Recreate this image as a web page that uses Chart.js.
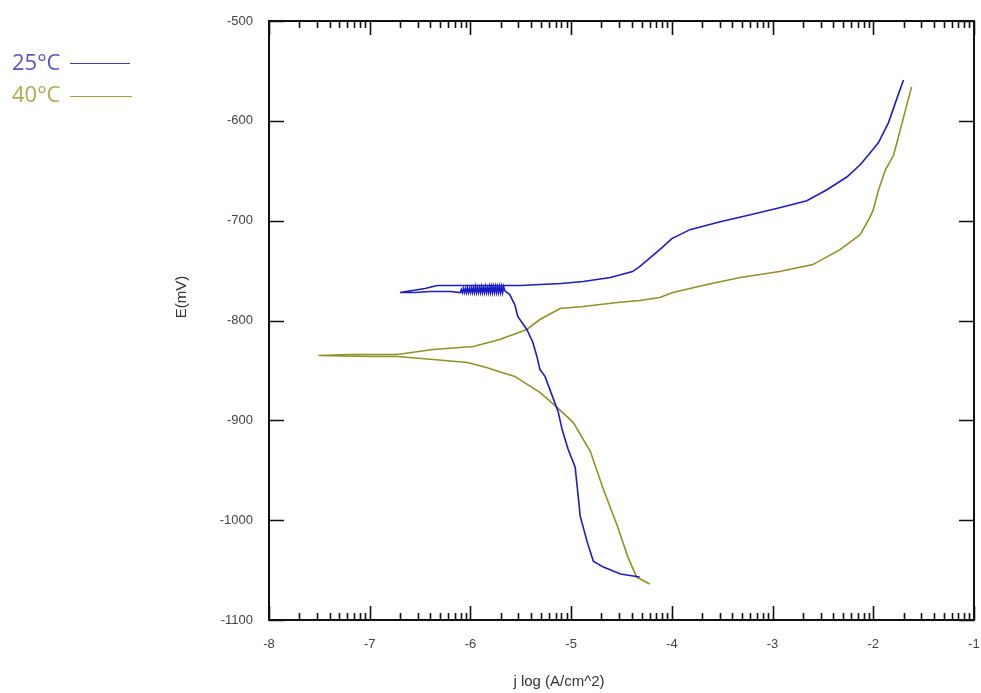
<!DOCTYPE html>
<html>
<head>
<meta charset="utf-8">
<script src="https://cdn.jsdelivr.net/npm/chart.js@4.4.1/dist/chart.umd.min.js"></script>
<style>
  html, body { margin: 0; padding: 0; background: #fff; }
  #wrap { position: relative; width: 981px; height: 693px; }
  canvas { position: absolute; left: 0; top: 0; }
  .lg { position: absolute; font-family: "Open Sans", sans-serif; font-size: 22px; line-height: 22px; white-space: nowrap; }
  .lgline { position: absolute; height: 0; }
</style>
</head>
<body>
<div id="wrap">
  <canvas id="c" width="981" height="693"></canvas>
  <div class="lg" id="lg1" style="left:12px; top:50px; color:rgb(85,85,200);">25°C</div>
  <div class="lgline" style="left:70px; top:63px; width:60px; border-top:1.6px solid rgb(60,60,190);"></div>
  <div class="lg" id="lg2" style="left:12px; top:82px; color:rgb(172,172,80);">40°C</div>
  <div class="lgline" style="left:70px; top:96px; width:62px; border-top:1.6px solid rgb(160,160,60);"></div>
</div>
<script>
// ---- data ----
const seriesLabels = ["25°C", "40°C"];

const jLog25 = [-4.32, -4.51, -4.68, -4.78, -4.84, -4.91, -4.93, -4.96, -5.03, -5.09, -5.13, -5.26, -5.31, -5.34, -5.38, -5.44, -5.53, -5.56, -5.61, -5.66,
  -5.67, -5.68, -5.69, -5.70, -5.71, -5.72, -5.73, -5.74, -5.75, -5.76, -5.77, -5.78, -5.79, -5.80, -5.81, -5.82, -5.83, -5.84, -5.85, -5.86,
  -5.87, -5.88, -5.89, -5.90, -5.91, -5.92, -5.93, -5.94, -5.95, -5.96, -5.97, -5.98, -5.99, -6.00, -6.01, -6.02, -6.03, -6.04, -6.05, -6.06,
  -6.07, -6.08, -6.09, -6.10,
  -6.20, -6.40, -6.55, -6.70, -6.45, -6.33, -6.10, -5.90, -5.70, -5.50,
  -5.31, -5.10, -4.88, -4.61, -4.39, -4.32, -4.12, -4.00, -3.82, -3.52, -3.22, -2.93, -2.66, -2.46, -2.26, -2.13, -2.03, -1.95, -1.85, -1.76, -1.70];
const E25 = [-1057, -1054, -1047, -1041, -1022, -996, -976, -947, -929, -909, -891, -856, -849, -836, -822, -809, -796, -784, -774, -770,
  -766, -772, -766, -772, -766, -772, -766, -772, -766, -772, -766, -772, -766, -772, -766, -772, -767, -772, -766, -772,
  -767, -772, -766, -772, -767, -772, -767, -772, -766, -772, -767, -772, -767, -772, -768, -772, -767, -772, -768, -772,
  -768, -772, -769, -772,
  -771, -771, -772, -772, -768, -765, -765, -765, -765, -765,
  -764, -763, -761, -757, -751, -746, -729, -718, -709, -701, -694, -687, -680, -669, -656, -644, -632, -622, -602, -576, -559];

const jLog40 = [-4.22, -4.35, -4.44, -4.54, -4.68, -4.81, -4.98, -5.14, -5.31, -5.56, -5.78, -5.84, -6.03, -6.37, -6.73, -7.00, -7.51,
  -7.20, -6.73, -6.37, -5.97, -5.71, -5.44, -5.31, -5.11, -4.88, -4.54, -4.32, -4.12, -3.99, -3.65, -3.32, -2.93, -2.60, -2.33,
  -2.13, -2.03, -2.00, -1.95, -1.88, -1.80, -1.75, -1.68, -1.62];
const E40 = [-1064, -1057, -1036, -1006, -969, -931, -902, -887, -872, -856, -849, -847, -842, -839, -836, -836, -835,
  -834, -834, -829, -826, -819, -809, -799, -788, -786, -782, -780, -777, -772, -764, -757, -751, -744, -729,
  -714, -696, -689, -670, -649, -635, -616, -589, -566];

const xTickValues = [-8, -7, -6, -5, -4, -3, -2, -1];
const yTickValues = [-1100, -1000, -900, -800, -700, -600, -500];

const xTitle = "j log (A/cm^2)";
const yTitle = "E(mV)";

// ---- build ----
const pts = (xs, ys) => xs.map((x, i) => ({ x: x, y: ys[i] }));

const framePlugin = {
  id: 'frame',
  afterDraw(chart) {
    const ctx = chart.ctx;
    const a = chart.chartArea;
    const xs = chart.scales.x, ys = chart.scales.y;
    ctx.save();
    ctx.strokeStyle = '#111';
    ctx.lineWidth = 2;
    ctx.strokeRect(a.left, a.top, a.right - a.left, a.bottom - a.top);
    ctx.lineWidth = 1.6;
    ctx.beginPath();
    // y ticks (inward, both sides)
    yTickValues.forEach(v => {
      const py = Math.round(ys.getPixelForValue(v)) + 0.5;
      ctx.moveTo(a.left, py); ctx.lineTo(a.left + 15, py);
      ctx.moveTo(a.right, py); ctx.lineTo(a.right - 15, py);
    });
    // x major + minor log ticks (inward, top and bottom)
    for (let d = 0; d < xTickValues.length; d++) {
      const base = xTickValues[d];
      const px = Math.round(xs.getPixelForValue(base)) + 0.5;
      ctx.moveTo(px, a.bottom); ctx.lineTo(px, a.bottom - 14);
      ctx.moveTo(px, a.top); ctx.lineTo(px, a.top + 14);
      if (d < xTickValues.length - 1) {
        for (let k = 2; k <= 9; k++) {
          const mx = Math.round(xs.getPixelForValue(base + Math.log10(k))) + 0.5;
          ctx.moveTo(mx, a.bottom); ctx.lineTo(mx, a.bottom - 7);
          ctx.moveTo(mx, a.top); ctx.lineTo(mx, a.top + 7);
        }
      }
    }
    ctx.stroke();
    // axis titles
    ctx.fillStyle = '#333';
    ctx.font = '15px "Liberation Sans", Arial, sans-serif';
    ctx.textAlign = 'center';
    ctx.textBaseline = 'middle';
    ctx.fillText(xTitle, 559, 682);
    ctx.translate(182, 297);
    ctx.rotate(-Math.PI / 2);
    ctx.fillText(yTitle, 0, 0);
    ctx.restore();
  }
};

new Chart(document.getElementById('c'), {
  type: 'scatter',
  data: {
    datasets: [
      { label: seriesLabels[0], data: pts(jLog25, E25), showLine: true, borderColor: 'rgb(28,28,196)', borderWidth: 1.6, pointRadius: 0, tension: 0, fill: false },
      { label: seriesLabels[1], data: pts(jLog40, E40), showLine: true, borderColor: 'rgb(145,145,40)', borderWidth: 1.6, pointRadius: 0, tension: 0, fill: false }
    ]
  },
  options: {
    responsive: false,
    animation: false,
    layout: { padding: { left: 0, right: 7, top: 21, bottom: 0 } },
    plugins: { legend: { display: false }, tooltip: { enabled: false } },
    scales: {
      x: {
        type: 'linear', min: -8, max: -1,
        afterBuildTicks(s) { s.ticks = xTickValues.map(v => ({ value: v })); },
        afterFit(s) { s.height = 73; },
        ticks: { color: '#444', font: { size: 13, family: '"Liberation Sans", Arial, sans-serif' }, padding: 1, maxRotation: 0, autoSkip: false,
                 callback: v => String(v) },
        grid: { drawOnChartArea: false, drawTicks: true, tickLength: 16, color: 'rgba(0,0,0,0)' },
        border: { display: false }
      },
      y: {
        type: 'linear', min: -1100, max: -500,
        afterBuildTicks(s) { s.ticks = yTickValues.map(v => ({ value: v })); },
        afterFit(s) { s.width = 269; },
        ticks: { color: '#444', font: { size: 13, family: '"Liberation Sans", Arial, sans-serif' }, padding: 2, autoSkip: false,
                 callback: v => String(v) },
        grid: { drawOnChartArea: false, drawTicks: true, tickLength: 14, color: 'rgba(0,0,0,0)' },
        border: { display: false }
      }
    }
  },
  plugins: [framePlugin]
});
</script>
</body>
</html>
